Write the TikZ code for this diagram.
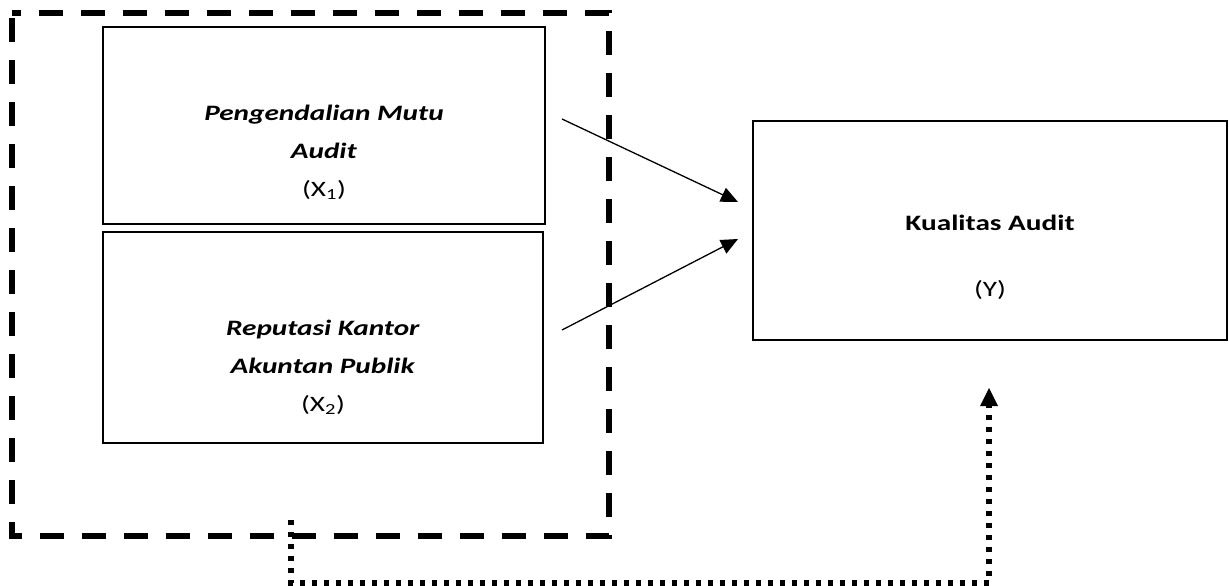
\documentclass[tikz,border=0pt]{standalone}
\usepackage{fontspec}
\setmainfont{Carlito}[FakeStretch=1.33]
\usepackage{tikz}
\usetikzlibrary{arrows.meta}

\begin{document}
\begin{tikzpicture}[
	x=1pt, y=-1pt,
	varbox/.style={draw, line width=2.2pt, inner sep=0pt},
	vartext/.style={align=center, inner sep=0pt, font=\fontsize{22}{38}\selectfont},
	link/.style={line width=1.3pt, -{Triangle[length=17pt,width=15pt]}},
	grpframe/.style={line width=6pt, dash pattern=on 24pt off 18pt, dash phase=37pt},
	modline/.style={line width=6pt, dash pattern=on 5pt off 7pt,
		-{Triangle[length=18pt,width=18pt,line width=0pt]}}
	]
	
	\useasboundingbox (0,0) rectangle (1229,586);
	
	% Variable boxes
	\node[varbox, minimum width=442pt, minimum height=197pt] (x1) at (324,125.5) {};
	\node[varbox, minimum width=440pt, minimum height=211pt] (x2) at (323,337.5) {};
	\node[varbox, minimum width=474pt, minimum height=219pt] (y) at (990,230.5) {};
	
	% Box texts
	\node[vartext] (x1t) at (324,152) {\textbf{\textit{Pengendalian Mutu}}\\\textbf{\textit{Audit}}\\(X\textsubscript{1})};
	\node[vartext] (x2t) at (323,367) {\textbf{\textit{Reputasi Kantor}}\\\textbf{\textit{Akuntan Publik}}\\(X\textsubscript{2})};
	\node[vartext, font=\fontsize{22}{33}\selectfont] (yt) at (990,257) {\textbf{Kualitas Audit}\\[33pt](Y)};
	
	% Dashed frame round X1 and X2
	\draw[grpframe] (12,13) rectangle (609,536);
	
	% Partial effects
	\coordinate (a1) at (562,119);
	\coordinate (b1) at (738,202);
	\coordinate (a2) at (562,330);
	\coordinate (b2) at (738,239);
	\draw[link] (a1) -- (b1);
	\draw[link] (a2) -- (b2);
	
	% Joint effect
	\coordinate (c0) at (291,520);
	\coordinate (c1) at (291,583);
	\coordinate (c2) at (989,388);
	\draw[modline] (c0) -- (c1) -| (c2);
	
\end{tikzpicture}
\end{document}
